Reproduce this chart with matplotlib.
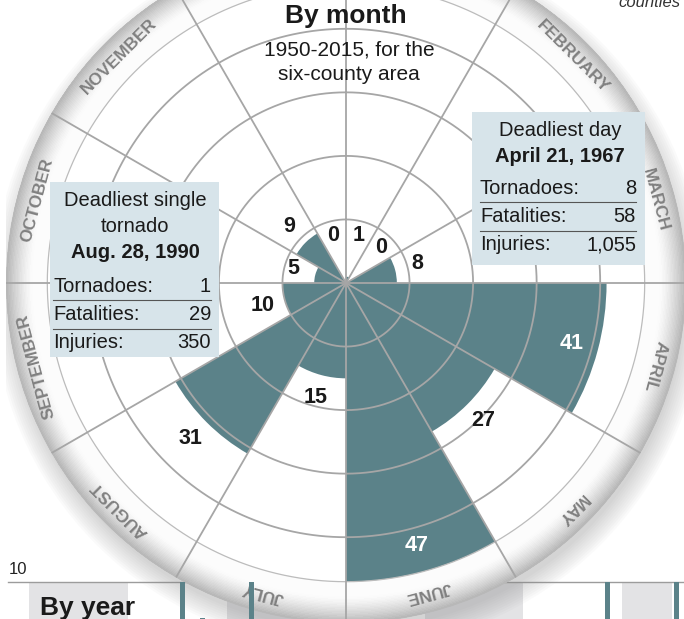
import numpy as np
import matplotlib.pyplot as plt
from matplotlib.patches import Rectangle, Circle
from matplotlib.lines import Line2D

# dane - tornada wg miesiecy (1950-2015)
months = ["JANUARY", "FEBRUARY", "MARCH", "APRIL", "MAY", "JUNE",
          "JULY", "AUGUST", "SEPTEMBER", "OCTOBER", "NOVEMBER", "DECEMBER"]
tornadoes = [1, 0, 8, 41, 27, 47, 15, 31, 10, 5, 9, 0]

# ramki z opisem
left_title = ["Deadliest single", "tornado"]
left_date = "Aug. 28, 1990"
left_rows = [("Tornadoes:", "1"), ("Fatalities:", "29"), ("Injuries:", "350")]
right_title = ["Deadliest day"]
right_date = "April 21, 1967"
right_rows = [("Tornadoes:", "8"), ("Fatalities:", "58"), ("Injuries:", "1,055")]

# widoczny fragment wykresu rocznego
years = [1965, 1967, 1972, 2008, 2015]
year_counts = [12, 8, 12, 12, 12]
decades = [1950, 1970, 1990, 2010]

W, H = 684, 619
TEAL = "#5b8289"
GRID = "#a6a6a6"
BOX = "#d7e4ea"
INK = "#1a1a1a"
plt.rcParams["font.family"] = ["Liberation Sans", "DejaVu Sans"]


def fx(px):
    return px / W


def fy(py):
    return 1 - py / H


fig = plt.figure(figsize=(W / 100, H / 100), dpi=100)

# geometria wykresu biegunowego
cx, cy = 346, 283
R_PX = 340
R_OUT = 53.5          # zewnetrzna krawedz pierscienia
R_IN = 47.0           # wewnetrzna krawedz pierscienia
pos = [fx(cx - R_PX), 1 - (cy + R_PX) / H, 2 * R_PX / W, 2 * R_PX / H]

# wykres roczny - tlo (pod pierscieniem)
x_left = 1950 - 34.3 / 9.88
x_right = x_left + W / 9.88
strip_pos = [0, 1 - 762 / H, 1, 180 / H]
sb = fig.add_axes(strip_pos, zorder=0)
sb.set_xlim(x_left, x_right)
sb.set_ylim(0, 10)
sb.axis("off")
for d in decades:
    sb.axvspan(d - 0.5, min(d + 10, years[-1]) - 0.5, color="#e3e3e5", lw=0)
sb.axhline(10, xmin=8 / W, color="#9c9c9c", lw=1, clip_on=False)

# cien pod pierscieniem (glownie u dolu)
sh = fig.add_axes(pos, zorder=0.5)
sh.set_xlim(-R_OUT, R_OUT)
sh.set_ylim(-R_OUT, R_OUT)
sh.axis("off")
for k in range(10):
    sh.add_patch(Circle((0.4, -1.6), R_OUT - 0.6 + k * 0.35, color="#808080",
                        alpha=0.035, lw=0))

# wykres biegunowy
ax = fig.add_axes(pos, projection="polar", zorder=1)
ax.set_theta_zero_location("N")
ax.set_theta_direction(-1)
ax.set_ylim(0, R_OUT)
ax.axis("off")

step = 2 * np.pi / 12
theta = np.arange(12) * step + step / 2

ax.bar(0, R_IN, width=2 * np.pi, bottom=0, color="white", lw=0, zorder=1)
n = 30
dr = (R_OUT - R_IN) / n
for k in range(n):
    t = (k + 0.5) / n
    g = 0.99 if t < 0.35 else 0.99 - 0.28 * ((t - 0.35) / 0.65) ** 1.4
    ax.bar(0, dr * 1.6, width=2 * np.pi, bottom=R_IN + k * dr,
           color=(g, g, g), lw=0, zorder=1, antialiased=False)

ax.bar(theta, tornadoes, width=step, color=TEAL, lw=0, zorder=2)

# siatka
circ = np.linspace(0, 2 * np.pi, 721)
for r in [10, 20, 30, 40]:
    ax.plot(circ, np.full_like(circ, r), color=GRID, lw=1.3, zorder=3)
ax.plot(circ, np.full_like(circ, R_IN), color="#bcbcbc", lw=0.9, zorder=3)
for a in np.arange(12) * step:
    ax.plot([a, a], [0, R_OUT], color=GRID, lw=1.3, zorder=3)

# etykiety wartosci
for th, v in zip(theta, tornadoes):
    if v > 35:
        ax.text(th, v - 4.2, str(v), color="white", fontsize=15.5,
                fontweight="bold", ha="center", va="center", zorder=5)
    else:
        ax.text(th, max(v + 3.6, 7.8), str(v), color=INK, fontsize=15.5,
                fontweight="bold", ha="center", va="center", zorder=5)

# nazwy miesiecy na pierscieniu
for th, m in zip(theta, months):
    ax.text(th, 50.4, m, color="#808080", fontsize=12.5, fontweight="bold",
            rotation=-np.degrees(th), rotation_mode="anchor",
            ha="center", va="center", zorder=5)

# wykres roczny - slupki (nad pierscieniem)
sf = fig.add_axes(strip_pos, zorder=2)
sf.set_xlim(x_left, x_right)
sf.set_ylim(0, 10)
sf.axis("off")
sf.bar(years, year_counts, width=0.5, color=TEAL, lw=0)

# tytul
fig.text(fx(346), fy(16), "By month", fontsize=19, fontweight="bold",
         ha="center", va="center", color=INK, zorder=4)
fig.text(fx(349), fy(50), "1950-2015, for the", fontsize=15,
         ha="center", va="center", color=INK, zorder=4)
fig.text(fx(349), fy(75), "six-county area", fontsize=15,
         ha="center", va="center", color=INK, zorder=4)
fig.text(fx(681), fy(7), "counties", fontsize=12, style="italic",
         ha="right", va="baseline", color="#333333", zorder=4)

# dolny pasek
fig.text(fx(9), fy(570), "10", fontsize=12, ha="left", va="center",
         color="#222222", zorder=4)
fig.text(fx(40), fy(596), "By year", fontsize=19, fontweight="bold",
         ha="left", va="top", color=INK, zorder=4)


def info_box(x0, y0, x1, y1, cx_txt, title, date, rows, y_title, y_rows,
             y_lines, lx, rx):
    fig.add_artist(Rectangle((fx(x0), fy(y1)), fx(x1 - x0), (y1 - y0) / H,
                             transform=fig.transFigure, color=BOX, lw=0,
                             zorder=3))
    for i, s in enumerate(title):
        fig.text(fx(cx_txt), fy(y_title[i]), s, fontsize=14.5, ha="center",
                 va="center", color=INK, zorder=4)
    fig.text(fx(cx_txt), fy(y_title[len(title)]), date, fontsize=14.5,
             fontweight="bold", ha="center", va="center", color=INK,
             zorder=4)
    for (lab, val), yy in zip(rows, y_rows):
        fig.text(fx(lx), fy(yy), lab, fontsize=14.5, ha="left", va="center",
                 color=INK, zorder=4)
        fig.text(fx(rx), fy(yy), val, fontsize=14.5, ha="right", va="center",
                 color=INK, zorder=4)
    for yy in y_lines:
        fig.add_artist(Line2D([fx(lx), fx(rx)], [fy(yy), fy(yy)],
                              transform=fig.transFigure, color="#555555",
                              lw=0.8, zorder=4))


info_box(50, 182, 219, 357, 135, left_title, left_date, left_rows,
         [200, 226, 252], [286, 315, 343], [300, 329], 53, 211)
info_box(472, 112, 645, 265, 560, right_title, right_date, right_rows,
         [130, 156], [188, 217, 245], [202, 231], 480, 636)

fig.savefig("out.png", dpi=100)
